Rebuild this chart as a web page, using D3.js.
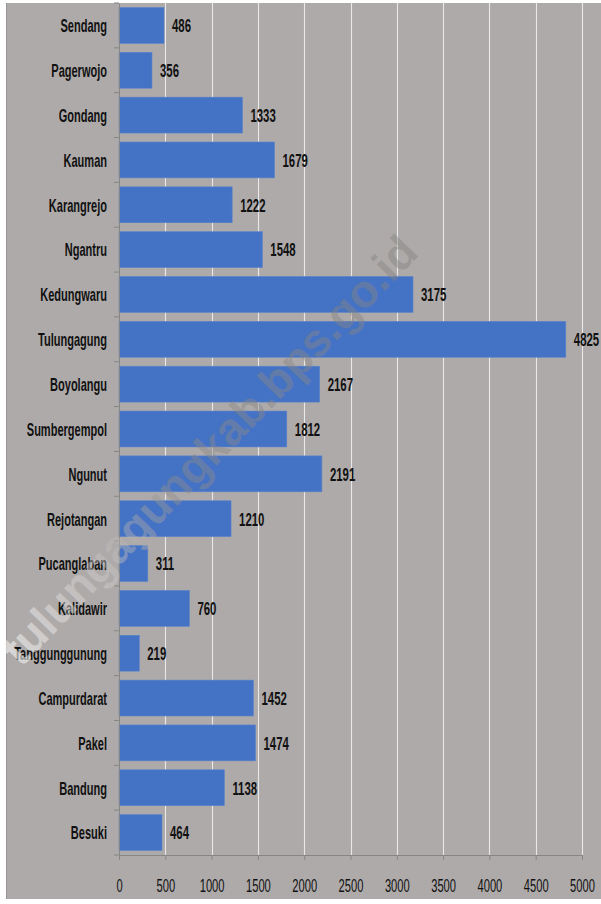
<!DOCTYPE html>
<html>
<head>
<meta charset="utf-8">
<script src="https://cdn.jsdelivr.net/npm/d3@7/dist/d3.min.js"></script>
<style>
html,body{margin:0;padding:0;background:#fff;}
svg{display:block;}
</style>
</head>
<body>
<svg id="chart" width="601" height="904"></svg>
<script>
const categories = ["Sendang","Pagerwojo","Gondang","Kauman","Karangrejo","Ngantru","Kedungwaru","Tulungagung","Boyolangu","Sumbergempol","Ngunut","Rejotangan","Pucanglaban","Kalidawir","Tanggunggunung","Campurdarat","Pakel","Bandung","Besuki"];
const values = [486,356,1333,1679,1222,1548,3175,4825,2167,1812,2191,1210,311,760,219,1452,1474,1138,464];
const xTicks = [0,500,1000,1500,2000,2500,3000,3500,4000,4500,5000];
const watermark = "tulungagungkab.bps.go.id";

(function(){
const svg = d3.select("#chart");
const font = "'Liberation Sans',Arial,sans-serif";

function squeeze(sel, f){
  sel.each(function(){
    const w = this.getComputedTextLength();
    d3.select(this).attr("textLength", w*f).attr("lengthAdjust","spacingAndGlyphs");
  });
}

svg.append("rect").attr("x",6).attr("y",3).attr("width",595).attr("height",896).attr("fill","#aeaaa9");
svg.append("line").attr("x1",6.5).attr("x2",6.5).attr("y1",3).attr("y2",899).attr("stroke","#9a9695");

const pL = 119, pR = 582, pT = 3, pB = 855;
const x = d3.scaleLinear().domain([0,5000]).range([pL,pR]);
const y = d3.scaleBand().domain(categories).range([pT,pB]).paddingInner(0.2).paddingOuter(0.1);

svg.append("g").selectAll("line").data(xTicks.slice(1)).join("line")
  .attr("x1",d=>Math.round(x(d))+0.5).attr("x2",d=>Math.round(x(d))+0.5)
  .attr("y1",pT).attr("y2",pB)
  .attr("stroke","#e8e8e8").attr("stroke-width",1.1);

svg.append("g").selectAll("rect").data(values).join("rect")
  .attr("x",x(0)).attr("y",(d,i)=>y(categories[i]))
  .attr("width",d=>x(d)-x(0)).attr("height",y.bandwidth())
  .attr("fill","#4472c4").attr("stroke","#5a84cc").attr("stroke-width",0.6);

const vl = svg.append("g").selectAll("text").data(values).join("text")
  .attr("x",d=>x(d)+8).attr("y",(d,i)=>y(categories[i])+y.bandwidth()/2)
  .attr("dy","0.36em")
  .attr("font-family",font).attr("font-weight","bold").attr("font-size",19)
  .attr("fill","#111").text(d=>d);
squeeze(vl, 0.6);

const yAxis = d3.axisLeft(y).tickSize(0).tickPadding(12);
const yg = svg.append("g").attr("transform",`translate(${pL},0)`).call(yAxis);
yg.select(".domain").attr("stroke","#868686");
const yt = yg.selectAll("text").attr("font-family",font).attr("font-weight","bold").attr("font-size",19).attr("fill","#111").attr("dy","0.36em");
squeeze(yt, 0.58);
const bounds = d3.range(categories.length+1).map(i=>pT + i*(pB-pT)/categories.length);
svg.append("g").selectAll("line").data(bounds).join("line")
  .attr("x1",pL-5).attr("x2",pL).attr("y1",d=>d).attr("y2",d=>d)
  .attr("stroke","#868686");

const xAxis = d3.axisBottom(x).tickValues(xTicks).tickSize(5).tickPadding(19).tickFormat(d3.format("d"));
const xg = svg.append("g").attr("transform",`translate(0,${pB})`).call(xAxis);
xg.select(".domain").attr("stroke","#868686");
xg.selectAll(".tick line").attr("stroke","#868686");
const xt = xg.selectAll("text").attr("font-family",font).attr("font-size",18).attr("fill","#111");
squeeze(xt, 0.62);

const defs = svg.append("defs");
const grad = defs.append("linearGradient").attr("id","wm").attr("gradientUnits","userSpaceOnUse")
  .attr("x1",-310).attr("y1",0).attr("x2",310).attr("y2",0);
grad.append("stop").attr("offset","0%").attr("stop-color","#ffffff").attr("stop-opacity",0.6);
grad.append("stop").attr("offset","22%").attr("stop-color","#d4d0cf").attr("stop-opacity",0.45);
grad.append("stop").attr("offset","42%").attr("stop-color","#8c8a8a").attr("stop-opacity",0.45);
grad.append("stop").attr("offset","100%").attr("stop-color","#828080").attr("stop-opacity",0.45);
svg.append("text")
  .attr("transform","translate(209,450) rotate(-46)")
  .attr("text-anchor","middle").attr("dy","0.35em")
  .attr("font-family",font).attr("font-weight","bold").attr("font-size",46)
  .attr("fill","url(#wm)").text(watermark);
})();
</script>
</body>
</html>
